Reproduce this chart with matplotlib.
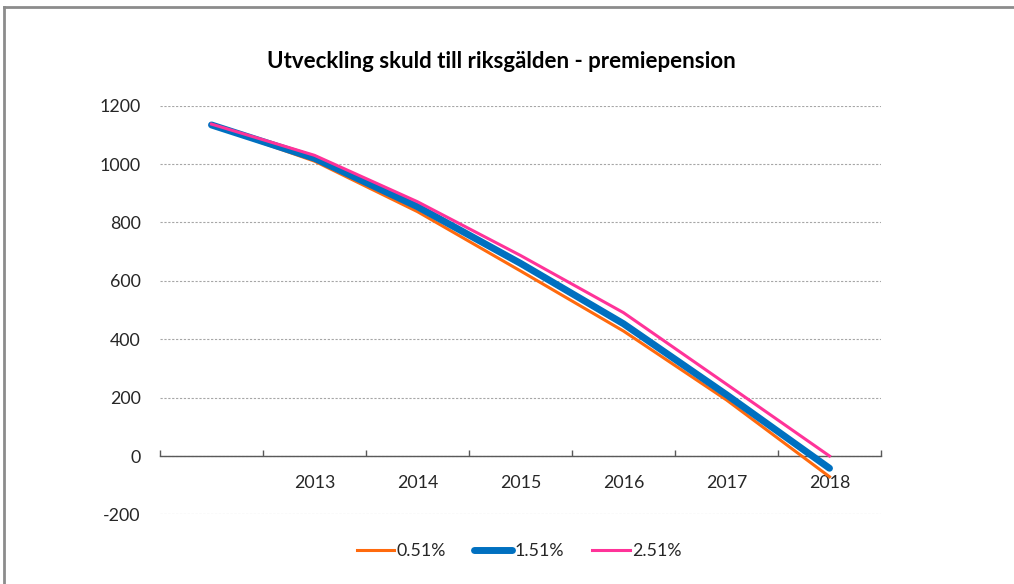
import matplotlib.pyplot as plt
from matplotlib.lines import Line2D
from matplotlib.ticker import FixedLocator, NullFormatter, FixedFormatter

plt.rcParams['font.family'] = ['Lato', 'DejaVu Sans']
plt.rcParams['axes.unicode_minus'] = False

# Data
years = ['', '2013', '2014', '2015', '2016', '2017', '2018']
rate_051 = [1134, 1010, 837, 634, 428, 192, -71]
rate_151 = [1134, 1020, 854, 660, 453, 210, -42]
rate_251 = [1137, 1030, 871, 687, 491, 246, 0]
series_names = ['0.51%', '1.51%', '2.51%']

fig = plt.figure(figsize=(10.14, 5.84), dpi=100)
ax = fig.add_axes([160 / 1014, 1 - 514.4 / 584, 721 / 1014, (514.4 - 105.7) / 584])

x = list(range(len(years)))
ax.plot(x, rate_051, color='#FF6A0D', lw=2.2, label=series_names[0], zorder=3)
ax.plot(x, rate_151, color='#0070C0', lw=5, solid_capstyle='round',
        solid_joinstyle='round', label=series_names[1], zorder=4)
ax.plot(x, rate_251, color='#FF3399', lw=2.2, label=series_names[2], zorder=5)

ax.set_xlim(-0.5, len(years) - 0.5)
ax.set_ylim(-200, 1200)
ax.set_yticks(range(-200, 1201, 200))
ax.yaxis.grid(True, color='#A6A6A6', ls=(0, (2, 1.5)), lw=0.8)
ax.set_axisbelow(True)

# category axis: ticks at boundaries, labels at centres
ax.xaxis.set_major_locator(FixedLocator([i - 0.5 for i in range(len(years) + 1)]))
ax.xaxis.set_major_formatter(NullFormatter())
ax.xaxis.set_minor_locator(FixedLocator(x))
ax.xaxis.set_minor_formatter(FixedFormatter(years))
ax.tick_params(axis='x', which='major', direction='in', length=4, color='#595959', width=1)
ax.tick_params(axis='x', which='minor', length=0, pad=14, labelsize=12.8, labelcolor='#262626')
ax.tick_params(axis='y', length=0, pad=14, labelsize=12.8, labelcolor='#262626')

for s in ['left', 'right', 'top']:
    ax.spines[s].set_visible(False)
ax.spines['bottom'].set_position(('data', 0))
ax.spines['bottom'].set_color('#595959')
ax.spines['bottom'].set_linewidth(1)

fig.text(0.4945, 1 - 61 / 584, 'Utveckling skuld till riksgälden - premiepension',
         ha='center', va='center', fontsize=16, fontweight='bold', color='black')

leg = fig.legend(loc='center', bbox_to_anchor=(0.512, 1 - 551 / 584), ncol=3,
                 frameon=False, fontsize=12.8, handlelength=2.1, handletextpad=0.15,
                 columnspacing=1.6)
for t in leg.get_texts():
    t.set_color('#262626')

# outer chart frame (top and left edges visible)
frame_top = 1 - 7 / 584
frame_left = 4 / 1014
fig.add_artist(Line2D([frame_left, 1], [frame_top, frame_top], transform=fig.transFigure,
                      color='#8C8C8C', lw=2))
fig.add_artist(Line2D([frame_left, frame_left], [0, frame_top], transform=fig.transFigure,
                      color='#8C8C8C', lw=2))

fig.savefig('out.png', dpi=100)
